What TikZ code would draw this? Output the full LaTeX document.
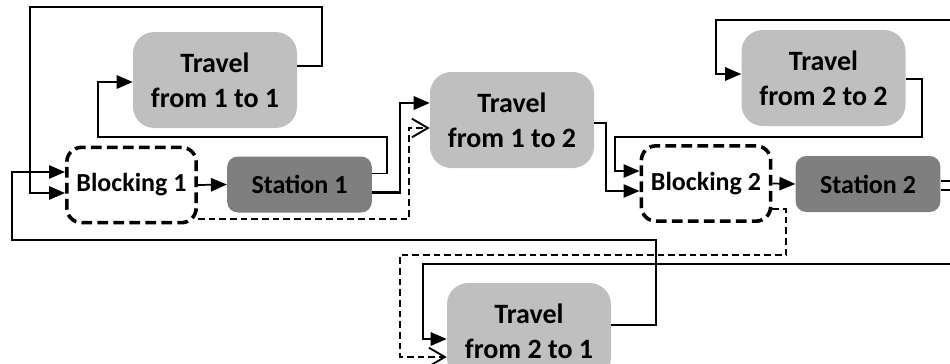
\documentclass[tikz,border=0pt]{standalone}
\usepackage{fontspec}
\setmainfont{Carlito}
\usetikzlibrary{arrows.meta,calc}
\definecolor{lgray}{HTML}{BFBFBF}
\definecolor{dgray}{HTML}{7F7F7F}
\tikzset{
  lbl/.style={font=\fontsize{19.5}{25.5}\selectfont\bfseries, align=center, inner sep=0pt, text=black},
  travel/.style={lbl, font=\fontsize{21}{26}\selectfont\bfseries, fill=lgray, draw=none, minimum width=123pt, minimum height=72pt, rounded corners=16pt},
  station/.style={lbl, fill=dgray, draw=none, minimum width=108.5pt, minimum height=42pt, rounded corners=8pt},
  blocking/.style={lbl, fill=white, draw=black, line width=2.7pt, dash pattern=on 8pt off 4pt, minimum width=97pt, minimum height=56.5pt, rounded corners=11pt},
  conn/.style={draw=black, line width=1.3pt},
  thick conn/.style={draw=black, line width=1.8pt},
  dconn/.style={draw=black, line width=1.2pt, dash pattern=on 5pt off 3pt},
  arr/.style={-{Triangle[length=12pt,width=10pt]}},
  oarr/.style={-{Straight Barb[length=12pt,width=14pt,line width=1.4pt]}},
}
\begin{document}
\begin{tikzpicture}[x=0.75pt,y=-0.75pt]
\useasboundingbox (0,0) rectangle (950,364);
% nodes
\node[travel]   (T11) at (215,80)    {Travel\\from 1 to 1};
\node[blocking] (B1)  at (131.5,185) {Blocking 1};
\node[station]  (S1)  at (299.5,184.5) {Station 1};
\node[travel]   (T12) at (512,120)   {Travel\\from 1 to 2};
\node[travel]   (T22) at (823.5,78)  {Travel\\from 2 to 2};
\node[blocking] (B2)  at (706,183.5) {Blocking 2};
\node[station]  (S2)  at (868,184)   {Station 2};
\node[travel]   (T21) at (529,331)   {Travel\\from 2 to 1};
% free ends beyond the right edge
\coordinate (out1) at (960,20);
\coordinate (out2) at (960,181);
\coordinate (out3) at (960,190);
\coordinate (out4) at (960,264);
% connectors
\draw[conn,arr] ($(T11.east)+(0,-14)$) -| (322,7) -| (30,193) -- ($(B1.west)+(0,8)$);
\draw[conn,arr] ($(S1.east)+(0,-11)$) -| (387,137) -| (98,82) -- ($(T11.west)+(0,2)$);
\draw[thick conn,arr] ($(S1.east)+(0,8)$) -| (400,103) -- ($(T12.west)+(0,-17)$);
\draw[dconn,oarr] ($(B1.east)+(0,34)$) -| (409,128) -- ($(T12.west)+(0,8)$);
\draw[conn,arr] (B1.east) -- (S1.west);
\draw[conn,arr] ($(T12.east)+(0,3)$) -| (606,191) -- ($(B2.west)+(0,7.5)$);
\draw[conn,arr] ($(T22.east)+(0,1)$) -| (922,137) -| (615,171) -- ($(B2.west)+(0,-12.5)$);
\draw[conn,arr] (out1) -| (716,74) -- ($(T22.west)+(0,-4)$);
\draw[conn,arr] (B2.east) -- (S2.west);
\draw[conn] ($(S2.east)+(0,-3)$) -- (out2);
\draw[conn] ($(S2.east)+(0,6)$) -- (out3);
\draw[conn,arr] ($(T21.east)+(0,-6)$) -| (656,240) -| (12,172) -- ($(B1.west)+(0,-13)$);
\draw[dconn,oarr] ($(B2.east)+(0,25.5)$) -| (786,255) -| (400,357) -- ($(T21.west)+(0,26)$);
\draw[conn,arr] (out4) -| (423,339) -- ($(T21.west)+(0,8)$);
\end{tikzpicture}
\end{document}
